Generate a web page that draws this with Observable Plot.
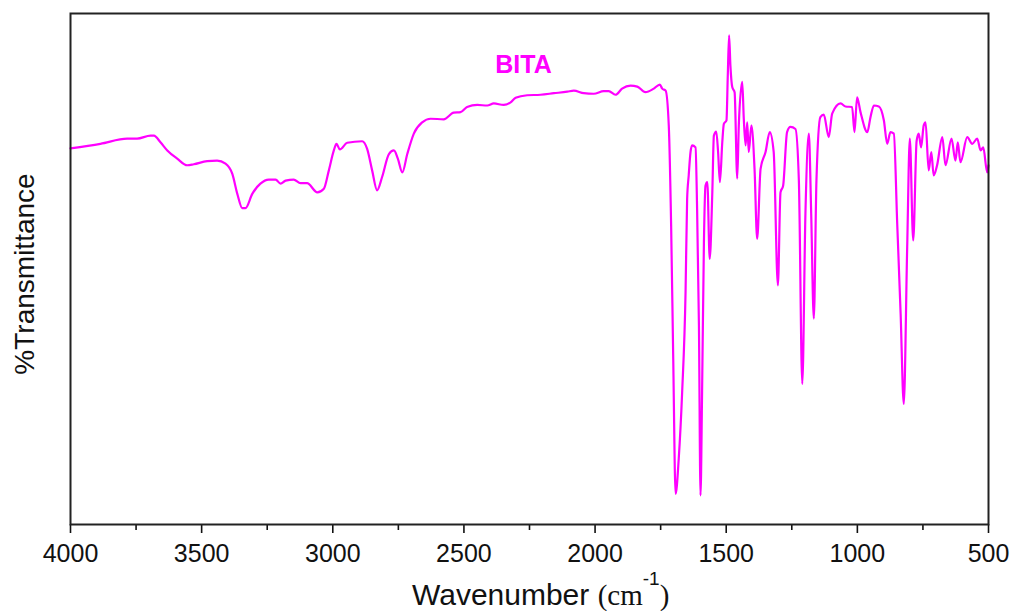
<!DOCTYPE html>
<html>
<head>
<meta charset="utf-8">
<script src="https://cdn.jsdelivr.net/npm/d3@7"></script>
<script src="https://cdn.jsdelivr.net/npm/@observablehq/plot@0.6"></script>
<style>
  html, body { margin: 0; padding: 0; background: #fff; }
</style>
</head>
<body>
<div id="chart"></div>
<script>
// FTIR spectrum of BITA: wavenumber (cm^-1) and percent transmittance
const wavenumber = [
  4000, 3886, 3784, 3746, 3695, 3682, 3657, 3631, 3593, 3555,
  3530, 3479, 3441, 3409, 3383, 3364, 3345, 3333, 3307, 3276,
  3244, 3218, 3199, 3180, 3149, 3123, 3098, 3059, 3034, 3015,
  2996, 2986, 2973, 2945, 2888, 2869, 2850, 2831, 2812, 2786,
  2767, 2752, 2735, 2716, 2691, 2659, 2627, 2577, 2539, 2513,
  2488, 2449, 2411, 2386, 2348, 2322, 2303, 2259, 2208, 2157,
  2106, 2081, 2043, 2005, 1967, 1948, 1922, 1897, 1865, 1839,
  1808, 1776, 1753, 1744, 1731, 1719, 1710, 1702, 1693, 1681,
  1668, 1655, 1649, 1643, 1636, 1630, 1617, 1611, 1604, 1598,
  1592, 1585, 1579, 1572, 1563, 1553, 1547, 1538, 1531, 1524,
  1515, 1509, 1499, 1494, 1489, 1484, 1477, 1468, 1458, 1452,
  1439, 1433, 1426, 1420, 1414, 1404, 1392, 1382, 1369, 1350,
  1334, 1319, 1303, 1293, 1283, 1268, 1255, 1236, 1223, 1210,
  1198, 1185, 1176, 1166, 1156, 1141, 1128, 1109, 1096, 1064,
  1045, 1020, 1011, 1001, 988, 962, 950, 937, 918, 899,
  886, 874, 861, 848, 835, 823, 810, 800, 787, 774,
  766, 757, 747, 740, 728, 718, 709, 696, 676, 664,
  641, 626, 617, 607, 581, 562, 543, 530, 520, 505,
  500
];
const transmittance = [
  73.6, 74.5, 75.5, 75.5, 76.1, 76.1, 74.8, 73.2, 71.6, 70.3,
  70.5, 71.1, 71.2, 70.6, 68.6, 64.7, 61.9, 61.9, 64.7, 66.7,
  67.5, 67.5, 66.7, 67.3, 67.5, 66.8, 66.8, 65.0, 65.7, 69.3,
  73.2, 74.5, 73.4, 74.7, 75.0, 73.5, 69.3, 65.4, 68.0, 72.5,
  73.2, 71.6, 68.9, 72.5, 76.5, 78.7, 79.4, 79.3, 80.6, 80.7,
  81.7, 82.1, 82.0, 82.4, 82.1, 82.6, 83.5, 84.0, 84.1, 84.4,
  84.7, 84.9, 84.4, 84.3, 84.8, 84.8, 84.1, 85.3, 85.9, 85.7,
  84.6, 85.3, 86.1, 85.3, 84.9, 78.1, 58.5, 32.5, 6.0, 12.9,
  25.9, 45.5, 63.7, 68.3, 72.9, 74.2, 73.8, 61.8, 38.9, 5.7,
  25.9, 55.2, 66.3, 67.0, 52.0, 65.0, 76.1, 76.9, 72.9, 67.0,
  74.8, 78.4, 79.1, 87.9, 95.7, 89.8, 85.6, 84.6, 67.7, 78.1,
  86.6, 79.4, 74.2, 78.7, 72.9, 78.1, 69.6, 55.9, 69.6, 72.9,
  76.8, 72.9, 46.8, 65.0, 66.3, 76.8, 77.8, 77.4, 67.3, 27.5,
  60.8, 76.5, 60.8, 40.3, 67.3, 79.7, 80.2, 75.8, 80.4, 82.4,
  81.8, 81.7, 76.8, 83.6, 80.7, 76.8, 79.7, 82.0, 81.8, 79.1,
  74.5, 76.8, 76.5, 58.8, 41.2, 23.6, 54.3, 75.5, 55.6, 75.1,
  76.5, 73.8, 78.1, 78.7, 69.3, 72.9, 68.3, 70.3, 75.8, 70.3,
  75.5, 71.2, 74.8, 70.9, 75.8, 74.5, 75.5, 73.2, 73.8, 68.9,
  70.3
];
const majorTicks = [4000, 3500, 3000, 2500, 2000, 1500, 1000, 500];
const minorTicks = [3750, 3250, 2750, 2250, 1750, 1250, 750];
const sampleName = "BITA";

const spectrum = wavenumber.map((w, i) => ({w, t: transmittance[i]}));
const lineColor = "#ff00ff";

const svg = Plot.plot({
  width: 1013,
  height: 611,
  marginLeft: 70,
  marginRight: 25,
  marginTop: 13,
  marginBottom: 87,
  style: {fontFamily: "'Liberation Sans', Arial, sans-serif", fontSize: "25px", color: "#111", background: "#fff"},
  x: {domain: [4000, 500]},
  y: {domain: [0, 100], axis: null},
  marks: [
    Plot.line(spectrum, {x: "w", y: "t", stroke: lineColor, strokeWidth: 2.2, curve: "monotone-x"}),
    Plot.text([sampleName], {
      x: 2273, y: 90, text: d => d, fill: lineColor,
      fontWeight: "bold", fontSize: 25, textAnchor: "middle", lineAnchor: "middle"
    }),
    Plot.axisX({ticks: majorTicks, tickSize: 9, tickPadding: 11, tickFormat: d3.format("d"), label: null, strokeWidth: 1.6}),
    Plot.axisX({ticks: minorTicks, tickSize: 6, tickFormat: () => "", label: null, strokeWidth: 1.6}),
    Plot.frame({stroke: "#222", strokeWidth: 2})
  ]
});

// Axis titles, with a superscript in the wavenumber unit
const s = d3.select(svg);
s.append("text")
  .attr("transform", "translate(24,274) rotate(-90)")
  .attr("text-anchor", "middle")
  .attr("dominant-baseline", "central")
  .style("font-family", "'Liberation Sans', Arial, sans-serif")
  .style("font-size", "28px")
  .attr("fill", "#111")
  .text("%Transmittance");

const xt = s.append("text")
  .attr("x", 412)
  .attr("y", 605)
  .attr("text-anchor", "start")
  .attr("fill", "#111")
  .style("font-family", "'Liberation Sans', Arial, sans-serif")
  .style("font-size", "30px");
xt.append("tspan").text("Wavenumber ");
xt.append("tspan").style("font-family", "'Liberation Serif', 'Times New Roman', serif").style("font-size", "29px").text("(cm");
xt.append("tspan").attr("dy", -20).style("font-size", "19px").text("-1");
xt.append("tspan").attr("dy", 20).style("font-family", "'Liberation Serif', 'Times New Roman', serif").style("font-size", "29px").text(")");

document.getElementById("chart").append(svg);
</script>
</body>
</html>
